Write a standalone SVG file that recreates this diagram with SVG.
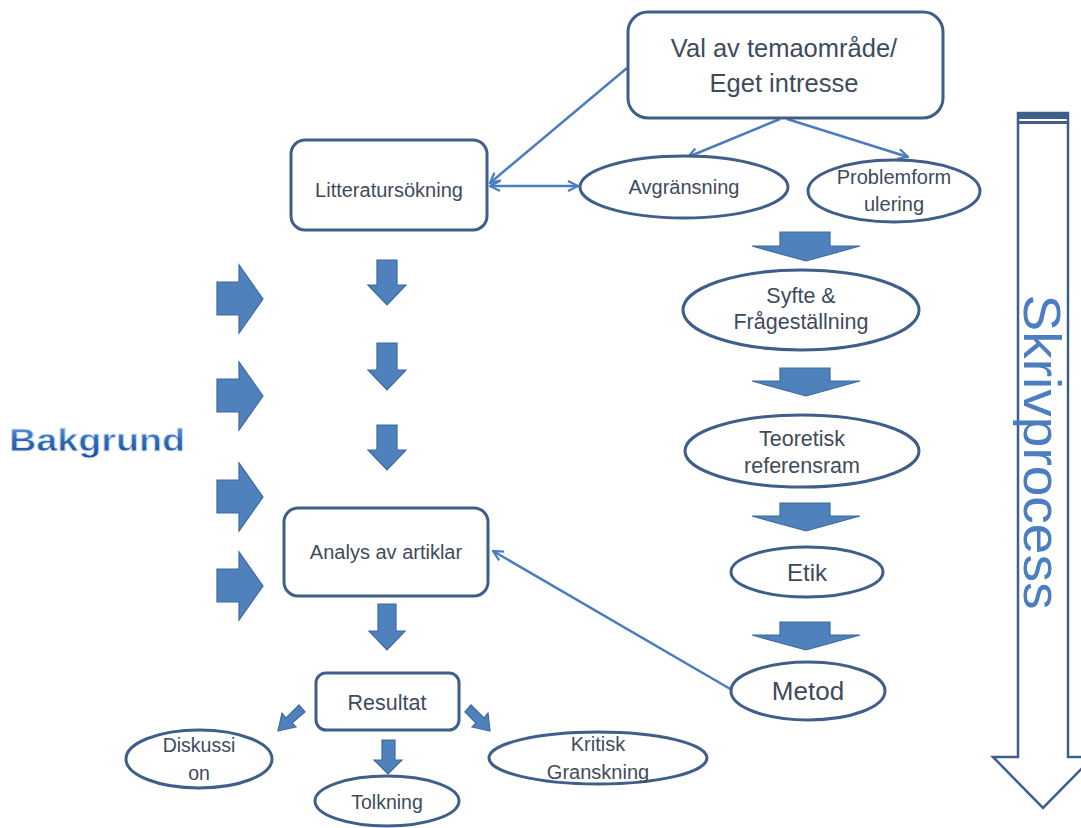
<svg xmlns="http://www.w3.org/2000/svg" width="1081" height="828" viewBox="0 0 1081 828">
<defs>
<style>
.box{fill:#fff;stroke:#3f5f8a;stroke-width:3}
.ell{fill:#fff;stroke:#3f5f8a;stroke-width:3}
.t{font-family:"Liberation Sans",Arial,sans-serif;fill:#3e4b5c;text-anchor:middle}
.blk{fill:#4f81bd;stroke:#3d6a9e;stroke-width:1.2}
.con{fill:none;stroke:#4a7cc0;stroke-width:2.5}
</style>
<marker id="ah" viewBox="0 0 12 12" refX="11" refY="6" markerWidth="12" markerHeight="12" markerUnits="userSpaceOnUse" orient="auto-start-reverse">
<path d="M1,1 L11,6 L1,11" fill="none" stroke="#4a7cc0" stroke-width="2.2"/>
</marker>
<linearGradient id="bg" x1="0" y1="0" x2="0" y2="1">
<stop offset="0" stop-color="#6fa0dc"/>
<stop offset="0.5" stop-color="#2e6bb8"/>
<stop offset="1" stop-color="#1d4f94"/>
</linearGradient>
</defs>

<g id="connectors">
<line class="con" x1="627" y1="68" x2="490" y2="183" marker-end="url(#ah)"/>
<line class="con" x1="490" y1="186" x2="578" y2="186" marker-start="url(#ah)" marker-end="url(#ah)"/>
<line class="con" x1="780" y1="119" x2="688" y2="157" marker-end="url(#ah)"/>
<line class="con" x1="787" y1="119" x2="908" y2="157" marker-end="url(#ah)"/>
<line class="con" x1="732" y1="690" x2="493" y2="551" marker-end="url(#ah)"/>
</g>

<g id="block-arrows">
<path class="blk" d="M377,260 H397 V285 H406 L387,305 L368,285 H377 Z"/>
<path class="blk" d="M377,343 H397 V370 H406 L387,390 L368,370 H377 Z"/>
<path class="blk" d="M377,425 H397 V450 H406 L387,470 L368,450 H377 Z"/>
<path class="blk" d="M378,604 H396 V631 H405 L387,650 L369,631 H378 Z"/>
<path class="blk" d="M217,282 H239 V265 L263,299 L239,333 V315 H217 Z"/>
<path class="blk" d="M217,379 H239 V362 L263,396 L239,430 V412 H217 Z"/>
<path class="blk" d="M217,480 H239 V463 L263,497 L239,531 V513 H217 Z"/>
<path class="blk" d="M217,569 H239 V552 L263,586 L239,620 V602 H217 Z"/>
<path class="blk" d="M780,232 H830 V246 H860 L806,261 L752,246 H780 Z"/>
<path class="blk" d="M780,368 H830 V381 H860 L806,396 L752,381 H780 Z"/>
<path class="blk" d="M780,503 H830 V516 H860 L806,531 L752,516 H780 Z"/>
<path class="blk" d="M780,622 H830 V635 H860 L806,650 L752,635 H780 Z"/>
<path class="blk" d="M382,740 H395 V760 H402 L388,774 L374,760 H382 Z"/>
<path class="blk" d="M305,712 L299,705 L286,718 L282,713 L278,731 L296,727 L292,723 Z"/>
<path class="blk" d="M465,712 L471,705 L484,718 L488,713 L490,731 L472,727 L476,723 Z"/>
</g>

<g id="skrivprocess">
<path d="M1018,113 H1068 V757 H1093 L1043,808 L993,757 H1018 Z" fill="#fff" stroke="#3f5f8a" stroke-width="2.5"/>
<rect x="1018" y="113" width="50" height="6" fill="#3f5f8a"/>
<rect x="1018" y="121" width="50" height="3" fill="#3f5f8a"/>
<text transform="translate(1024,452) rotate(90)" x="0" y="0" font-family="'Liberation Sans',Arial,sans-serif" font-size="52" fill="#4a7ec0" text-anchor="middle" textLength="315" lengthAdjust="spacingAndGlyphs">Skrivprocess</text>
</g>

<g id="bakgrund">
<text x="97" y="451" font-family="'Liberation Sans',Arial,sans-serif" font-weight="bold" font-size="32" fill="url(#bg)" stroke="#dbe7f5" stroke-width="0.8" text-anchor="middle" textLength="176" lengthAdjust="spacingAndGlyphs">Bakgrund</text>
</g>

<g id="val">
<rect class="box" x="628" y="12" width="315" height="106" rx="20"/>
<text class="t" x="784" y="57" font-size="25.5">Val av temaområde/</text>
<text class="t" x="784" y="92" font-size="25.5">Eget intresse</text>
</g>

<g id="litteratur">
<rect class="box" x="291" y="140" width="196" height="90" rx="14"/>
<text class="t" x="389" y="197" font-size="20">Litteratursökning</text>
</g>

<g id="avgransning">
<ellipse class="ell" cx="684" cy="187" rx="104" ry="31"/>
<text class="t" x="684" y="194" font-size="20">Avgränsning</text>
</g>

<g id="problem">
<ellipse class="ell" cx="894" cy="191" rx="86" ry="31"/>
<text class="t" x="894" y="184" font-size="20">Problemform</text>
<text class="t" x="894" y="211" font-size="20">ulering</text>
</g>

<g id="syfte">
<ellipse class="ell" cx="801" cy="310" rx="118" ry="40"/>
<text class="t" x="801" y="303" font-size="21.5">Syfte &amp;</text>
<text class="t" x="801" y="329" font-size="21.5">Frågeställning</text>
</g>

<g id="teoretisk">
<ellipse class="ell" cx="802" cy="451" rx="117" ry="36"/>
<text class="t" x="802" y="446" font-size="21.5">Teoretisk</text>
<text class="t" x="802" y="473" font-size="21.5">referensram</text>
</g>

<g id="etik">
<ellipse class="ell" cx="807" cy="572" rx="76" ry="25"/>
<text class="t" x="807" y="581" font-size="24">Etik</text>
</g>

<g id="metod">
<ellipse class="ell" cx="808" cy="691" rx="77" ry="29"/>
<text class="t" x="808" y="700" font-size="26">Metod</text>
</g>

<g id="analys">
<rect class="box" x="284" y="508" width="204" height="88" rx="14"/>
<text class="t" x="386" y="559" font-size="20">Analys av artiklar</text>
</g>

<g id="resultat">
<rect class="box" x="316" y="673" width="143" height="57" rx="10"/>
<text class="t" x="387" y="710" font-size="21.5">Resultat</text>
</g>

<g id="diskussion">
<ellipse class="ell" cx="199" cy="759" rx="73" ry="29"/>
<text class="t" x="199" y="752" font-size="19.5">Diskussi</text>
<text class="t" x="199" y="780" font-size="19.5">on</text>
</g>

<g id="tolkning">
<ellipse class="ell" cx="387" cy="801" rx="72" ry="25"/>
<text class="t" x="387" y="809" font-size="19.5">Tolkning</text>
</g>

<g id="kritisk">
<ellipse class="ell" cx="598" cy="758" rx="109" ry="26"/>
<text class="t" x="598" y="751" font-size="20">Kritisk</text>
<text class="t" x="598" y="779" font-size="20">Granskning</text>
</g>
</svg>
